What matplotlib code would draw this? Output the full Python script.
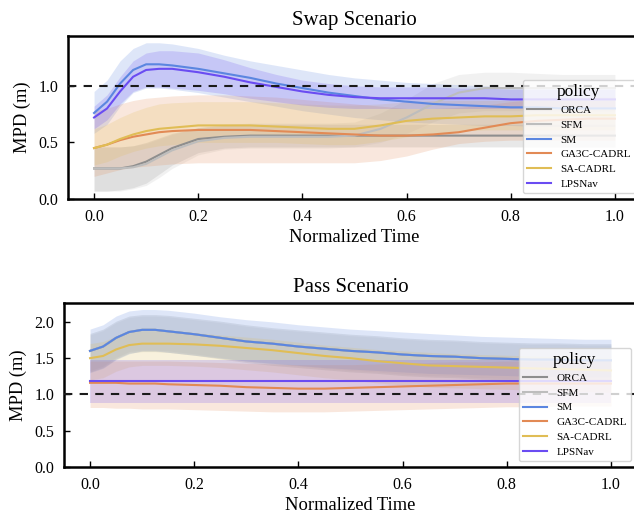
import matplotlib
matplotlib.use("Agg")
import matplotlib.pyplot as plt
import numpy as np

plt.rcParams['font.family'] = ['Liberation Serif', 'DejaVu Serif']
plt.rcParams['mathtext.fontset'] = 'stix'

policies = ["ORCA", "SFM", "SM", "GA3C-CADRL", "SA-CADRL", "LPSNav"]
colors = ["#8e8e8e", "#bdbdbd", "#5b86e0", "#e28a55", "#e0bd55", "#6a4cf2"]

t = [0, .025, .05, .075, .1, .125, .15, .2, .25, .3, .35, .4, .45, .5,
     .55, .6, .65, .7, .75, .8, .85, .9, .95, 1.0]

# ---------------- Swap scenario ----------------
swap_orca_mean = [0.27, 0.27, 0.27, 0.29, 0.33, 0.39, 0.45, 0.53, 0.55, 0.56, 0.56, 0.56, 0.56, 0.56,
                  0.56, 0.56, 0.56, 0.56, 0.56, 0.56, 0.56, 0.56, 0.56, 0.56]
swap_orca_lo = [0.07, 0.07, 0.08, 0.10, 0.14, 0.22, 0.30, 0.41, 0.45, 0.46, 0.46, 0.46, 0.46, 0.46,
                0.46, 0.46, 0.46, 0.46, 0.46, 0.46, 0.46, 0.46, 0.46, 0.46]
swap_orca_hi = [0.46, 0.46, 0.46, 0.47, 0.50, 0.54, 0.58, 0.63, 0.65, 0.66, 0.66, 0.66, 0.66, 0.66,
                0.66, 0.66, 0.66, 0.66, 0.66, 0.66, 0.66, 0.66, 0.66, 0.66]

swap_sfm_mean = [0.27, 0.27, 0.27, 0.28, 0.31, 0.37, 0.43, 0.51, 0.54, 0.55, 0.55, 0.55, 0.55, 0.56,
                 0.62, 0.72, 0.84, 0.94, 0.98, 0.98, 0.98, 0.98, 0.98, 0.98]
swap_sfm_lo = [0.07, 0.07, 0.07, 0.09, 0.12, 0.19, 0.27, 0.39, 0.44, 0.45, 0.45, 0.45, 0.45, 0.46,
               0.50, 0.58, 0.68, 0.76, 0.78, 0.78, 0.78, 0.78, 0.78, 0.78]
swap_sfm_hi = [0.46, 0.46, 0.46, 0.47, 0.49, 0.53, 0.57, 0.63, 0.66, 0.67, 0.67, 0.67, 0.67, 0.68,
               0.76, 0.88, 1.02, 1.10, 1.12, 1.12, 1.11, 1.10, 1.10, 1.10]

swap_sm_mean = [0.76, 0.86, 1.02, 1.14, 1.19, 1.19, 1.18, 1.15, 1.11, 1.07, 1.02, 0.98, 0.94, 0.91,
                0.88, 0.86, 0.84, 0.83, 0.82, 0.81, 0.81, 0.80, 0.80, 0.80]
swap_sm_lo = [0.58, 0.66, 0.82, 0.94, 0.98, 0.98, 0.97, 0.94, 0.90, 0.86, 0.82, 0.78, 0.75, 0.72,
              0.70, 0.68, 0.67, 0.66, 0.65, 0.65, 0.64, 0.64, 0.64, 0.64]
swap_sm_hi = [0.95, 1.05, 1.22, 1.33, 1.38, 1.38, 1.37, 1.33, 1.27, 1.22, 1.18, 1.14, 1.10, 1.07,
              1.05, 1.03, 1.02, 1.01, 1.00, 0.99, 0.99, 0.98, 0.98, 0.98]

swap_ga3c_mean = [0.45, 0.48, 0.52, 0.55, 0.57, 0.59, 0.60, 0.61, 0.61, 0.61, 0.60, 0.59, 0.58, 0.57,
                  0.56, 0.56, 0.57, 0.59, 0.63, 0.67, 0.69, 0.70, 0.71, 0.71]
swap_ga3c_lo = [0.20, 0.23, 0.26, 0.28, 0.29, 0.30, 0.31, 0.32, 0.32, 0.32, 0.32, 0.32, 0.32, 0.32,
                0.34, 0.38, 0.44, 0.49, 0.51, 0.52, 0.52, 0.52, 0.52, 0.52]
swap_ga3c_hi = [0.78, 0.80, 0.84, 0.87, 0.89, 0.90, 0.91, 0.92, 0.92, 0.91, 0.90, 0.88, 0.86, 0.84,
                0.82, 0.80, 0.80, 0.81, 0.83, 0.86, 0.88, 0.89, 0.90, 0.90]

swap_sa_mean = [0.45, 0.48, 0.53, 0.57, 0.60, 0.62, 0.63, 0.65, 0.65, 0.65, 0.64, 0.63, 0.62, 0.62,
                0.65, 0.69, 0.71, 0.72, 0.73, 0.73, 0.74, 0.74, 0.74, 0.74]
swap_sa_lo = [0.30, 0.33, 0.38, 0.42, 0.45, 0.47, 0.48, 0.50, 0.50, 0.50, 0.50, 0.49, 0.48, 0.48,
              0.51, 0.55, 0.58, 0.60, 0.61, 0.61, 0.61, 0.61, 0.61, 0.61]
swap_sa_hi = [0.62, 0.66, 0.72, 0.77, 0.81, 0.84, 0.85, 0.86, 0.86, 0.86, 0.85, 0.84, 0.83, 0.83,
              0.84, 0.86, 0.87, 0.87, 0.87, 0.87, 0.87, 0.87, 0.87, 0.87]

swap_lps_mean = [0.72, 0.80, 0.95, 1.08, 1.14, 1.15, 1.15, 1.12, 1.08, 1.03, 0.99, 0.95, 0.92, 0.90,
                 0.89, 0.89, 0.89, 0.89, 0.89, 0.88, 0.88, 0.88, 0.88, 0.88]
swap_lps_lo = [0.62, 0.70, 0.84, 0.95, 0.99, 0.99, 0.98, 0.96, 0.93, 0.89, 0.86, 0.83, 0.81, 0.80,
               0.80, 0.80, 0.80, 0.80, 0.80, 0.80, 0.80, 0.80, 0.80, 0.80]
swap_lps_hi = [0.82, 0.92, 1.08, 1.22, 1.29, 1.31, 1.31, 1.29, 1.23, 1.16, 1.10, 1.05, 1.02, 1.00,
               0.99, 0.99, 0.99, 0.98, 0.98, 0.97, 0.97, 0.97, 0.97, 0.97]

# ---------------- Pass scenario ----------------
pass_orca_mean = [1.60, 1.66, 1.78, 1.86, 1.89, 1.89, 1.87, 1.83, 1.78, 1.73, 1.70, 1.66, 1.63, 1.60,
                  1.58, 1.55, 1.53, 1.52, 1.50, 1.49, 1.48, 1.48, 1.47, 1.47]
pass_orca_lo = [1.31, 1.37, 1.49, 1.57, 1.59, 1.59, 1.58, 1.54, 1.49, 1.44, 1.40, 1.37, 1.34, 1.31,
                1.29, 1.26, 1.24, 1.23, 1.21, 1.20, 1.19, 1.19, 1.18, 1.18]
pass_orca_hi = [1.84, 1.90, 2.01, 2.08, 2.10, 2.10, 2.09, 2.05, 2.01, 1.96, 1.92, 1.89, 1.86, 1.83,
                1.81, 1.78, 1.76, 1.75, 1.73, 1.72, 1.71, 1.71, 1.70, 1.70]
pass_sfm_mean = [1.60, 1.66, 1.78, 1.86, 1.89, 1.89, 1.87, 1.83, 1.78, 1.73, 1.70, 1.66, 1.63, 1.60,
                 1.58, 1.55, 1.53, 1.52, 1.50, 1.49, 1.48, 1.48, 1.47, 1.47]
pass_sfm_lo = [1.33, 1.39, 1.51, 1.59, 1.61, 1.61, 1.60, 1.56, 1.51, 1.46, 1.42, 1.39, 1.36, 1.33,
               1.31, 1.28, 1.26, 1.25, 1.23, 1.22, 1.21, 1.21, 1.20, 1.20]
pass_sfm_hi = [1.82, 1.88, 1.99, 2.06, 2.08, 2.08, 2.07, 2.03, 1.99, 1.94, 1.90, 1.87, 1.84, 1.81,
               1.79, 1.76, 1.74, 1.73, 1.71, 1.70, 1.69, 1.69, 1.68, 1.68]

pass_sm_mean = [1.60, 1.66, 1.78, 1.86, 1.89, 1.89, 1.87, 1.83, 1.78, 1.73, 1.70, 1.66, 1.63, 1.60,
                1.58, 1.55, 1.53, 1.52, 1.50, 1.49, 1.48, 1.48, 1.47, 1.47]
pass_sm_lo = [1.30, 1.36, 1.48, 1.56, 1.60, 1.60, 1.58, 1.54, 1.50, 1.46, 1.43, 1.40, 1.37, 1.35,
              1.33, 1.31, 1.29, 1.28, 1.27, 1.26, 1.25, 1.25, 1.24, 1.24]
pass_sm_hi = [1.90, 1.96, 2.08, 2.15, 2.17, 2.17, 2.16, 2.12, 2.07, 2.03, 2.00, 1.96, 1.93, 1.90,
              1.88, 1.86, 1.84, 1.82, 1.80, 1.79, 1.78, 1.77, 1.76, 1.76]

pass_ga3c_mean = [1.16, 1.16, 1.16, 1.15, 1.15, 1.15, 1.14, 1.13, 1.12, 1.10, 1.09, 1.08, 1.08, 1.09,
                  1.10, 1.11, 1.12, 1.13, 1.14, 1.15, 1.15, 1.15, 1.15, 1.15]
pass_ga3c_lo = [0.82, 0.82, 0.81, 0.81, 0.80, 0.80, 0.80, 0.79, 0.78, 0.77, 0.76, 0.76, 0.76, 0.77,
                0.78, 0.79, 0.80, 0.81, 0.82, 0.83, 0.83, 0.84, 0.84, 0.84]
pass_ga3c_hi = [1.46, 1.46, 1.46, 1.46, 1.46, 1.46, 1.46, 1.45, 1.44, 1.43, 1.42, 1.41, 1.41, 1.41,
                1.42, 1.43, 1.44, 1.45, 1.45, 1.46, 1.46, 1.46, 1.46, 1.46]

pass_sa_mean = [1.50, 1.53, 1.62, 1.68, 1.70, 1.70, 1.70, 1.69, 1.67, 1.64, 1.61, 1.57, 1.53, 1.50,
                1.46, 1.43, 1.40, 1.39, 1.38, 1.37, 1.36, 1.35, 1.34, 1.33]
pass_sa_lo = [1.20, 1.23, 1.32, 1.38, 1.40, 1.40, 1.40, 1.39, 1.37, 1.34, 1.31, 1.27, 1.23, 1.20,
              1.16, 1.13, 1.10, 1.09, 1.08, 1.07, 1.06, 1.05, 1.04, 1.03]
pass_sa_hi = [1.70, 1.73, 1.80, 1.86, 1.88, 1.88, 1.87, 1.85, 1.82, 1.79, 1.76, 1.72, 1.68, 1.65,
              1.62, 1.60, 1.58, 1.56, 1.55, 1.54, 1.53, 1.52, 1.51, 1.50]

pass_lps_mean = [1.18, 1.18, 1.18, 1.18, 1.18, 1.18, 1.18, 1.18, 1.18, 1.18, 1.18, 1.18, 1.18, 1.18,
                 1.18, 1.18, 1.18, 1.18, 1.18, 1.18, 1.18, 1.18, 1.18, 1.18]
pass_lps_lo = [0.88, 0.88, 0.88, 0.88, 0.88, 0.88, 0.88, 0.88, 0.88, 0.88, 0.88, 0.88, 0.88, 0.88,
               0.88, 0.88, 0.88, 0.88, 0.88, 0.88, 0.88, 0.88, 0.88, 0.88]
pass_lps_hi = [1.48, 1.48, 1.48, 1.48, 1.48, 1.48, 1.48, 1.48, 1.48, 1.48, 1.48, 1.48, 1.48, 1.48,
               1.48, 1.48, 1.48, 1.48, 1.48, 1.48, 1.48, 1.48, 1.48, 1.48]

swap_data = [
    (swap_orca_mean, swap_orca_lo, swap_orca_hi),
    (swap_sfm_mean, swap_sfm_lo, swap_sfm_hi),
    (swap_sm_mean, swap_sm_lo, swap_sm_hi),
    (swap_ga3c_mean, swap_ga3c_lo, swap_ga3c_hi),
    (swap_sa_mean, swap_sa_lo, swap_sa_hi),
    (swap_lps_mean, swap_lps_lo, swap_lps_hi),
]
pass_data = [
    (pass_orca_mean, pass_orca_lo, pass_orca_hi),
    (pass_sfm_mean, pass_sfm_lo, pass_sfm_hi),
    (pass_sm_mean, pass_sm_lo, pass_sm_hi),
    (pass_ga3c_mean, pass_ga3c_lo, pass_ga3c_hi),
    (pass_sa_mean, pass_sa_lo, pass_sa_hi),
    (pass_lps_mean, pass_lps_lo, pass_lps_hi),
]

W, H = 634, 515
fig = plt.figure(figsize=(W / 100, H / 100), dpi=100)
ax1 = fig.add_axes([68 / W, 1 - 199 / H, 573 / W, 163 / H])
ax2 = fig.add_axes([64 / W, 1 - 467 / H, 573 / W, 164 / H])


def draw(ax, data, title, ylim, yticks):
    for name, col, (m, lo, hi) in zip(policies, colors, data):
        ax.plot(t, m, color=col, lw=1.5, label=name, zorder=3)
        ax.fill_between(t, lo, hi, color=col, alpha=0.2, lw=0, zorder=2)
    ax.axhline(1.0, color='#1a1a1a', lw=1.5, ls=(0, (4, 3.5)), zorder=4)
    ax.set_xlim(-0.05, 1.05)
    ax.set_ylim(*ylim)
    ax.set_yticks(yticks)
    ax.set_xticks([0, 0.2, 0.4, 0.6, 0.8, 1.0])
    ax.set_xlabel("Normalized Time", fontsize=13.3, labelpad=3)
    ax.set_ylabel("MPD (m)", fontsize=13.3, labelpad=5)
    ax.set_title(title, fontsize=15, pad=8)
    ax.tick_params(direction='in', length=4, width=1, labelsize=11.5, pad=7)
    for s in ['left', 'bottom', 'top']:
        ax.spines[s].set_linewidth(1.8)
        ax.spines[s].set_color('black')
    ax.spines['right'].set_visible(False)
    leg = ax.legend(title="policy", loc='lower right', bbox_to_anchor=(0.99, 0.035),
                    borderaxespad=0, fontsize=8, title_fontsize=12.5,
                    labelspacing=0.45, handlelength=2.2, framealpha=0.8,
                    edgecolor='#cccccc')
    leg.set_zorder(5)


draw(ax1, swap_data, "Swap Scenario", (0, 1.44), [0.0, 0.5, 1.0])
draw(ax2, pass_data, "Pass Scenario", (0, 2.26), [0.0, 0.5, 1.0, 1.5, 2.0])

fig.savefig("out.png", dpi=100)
